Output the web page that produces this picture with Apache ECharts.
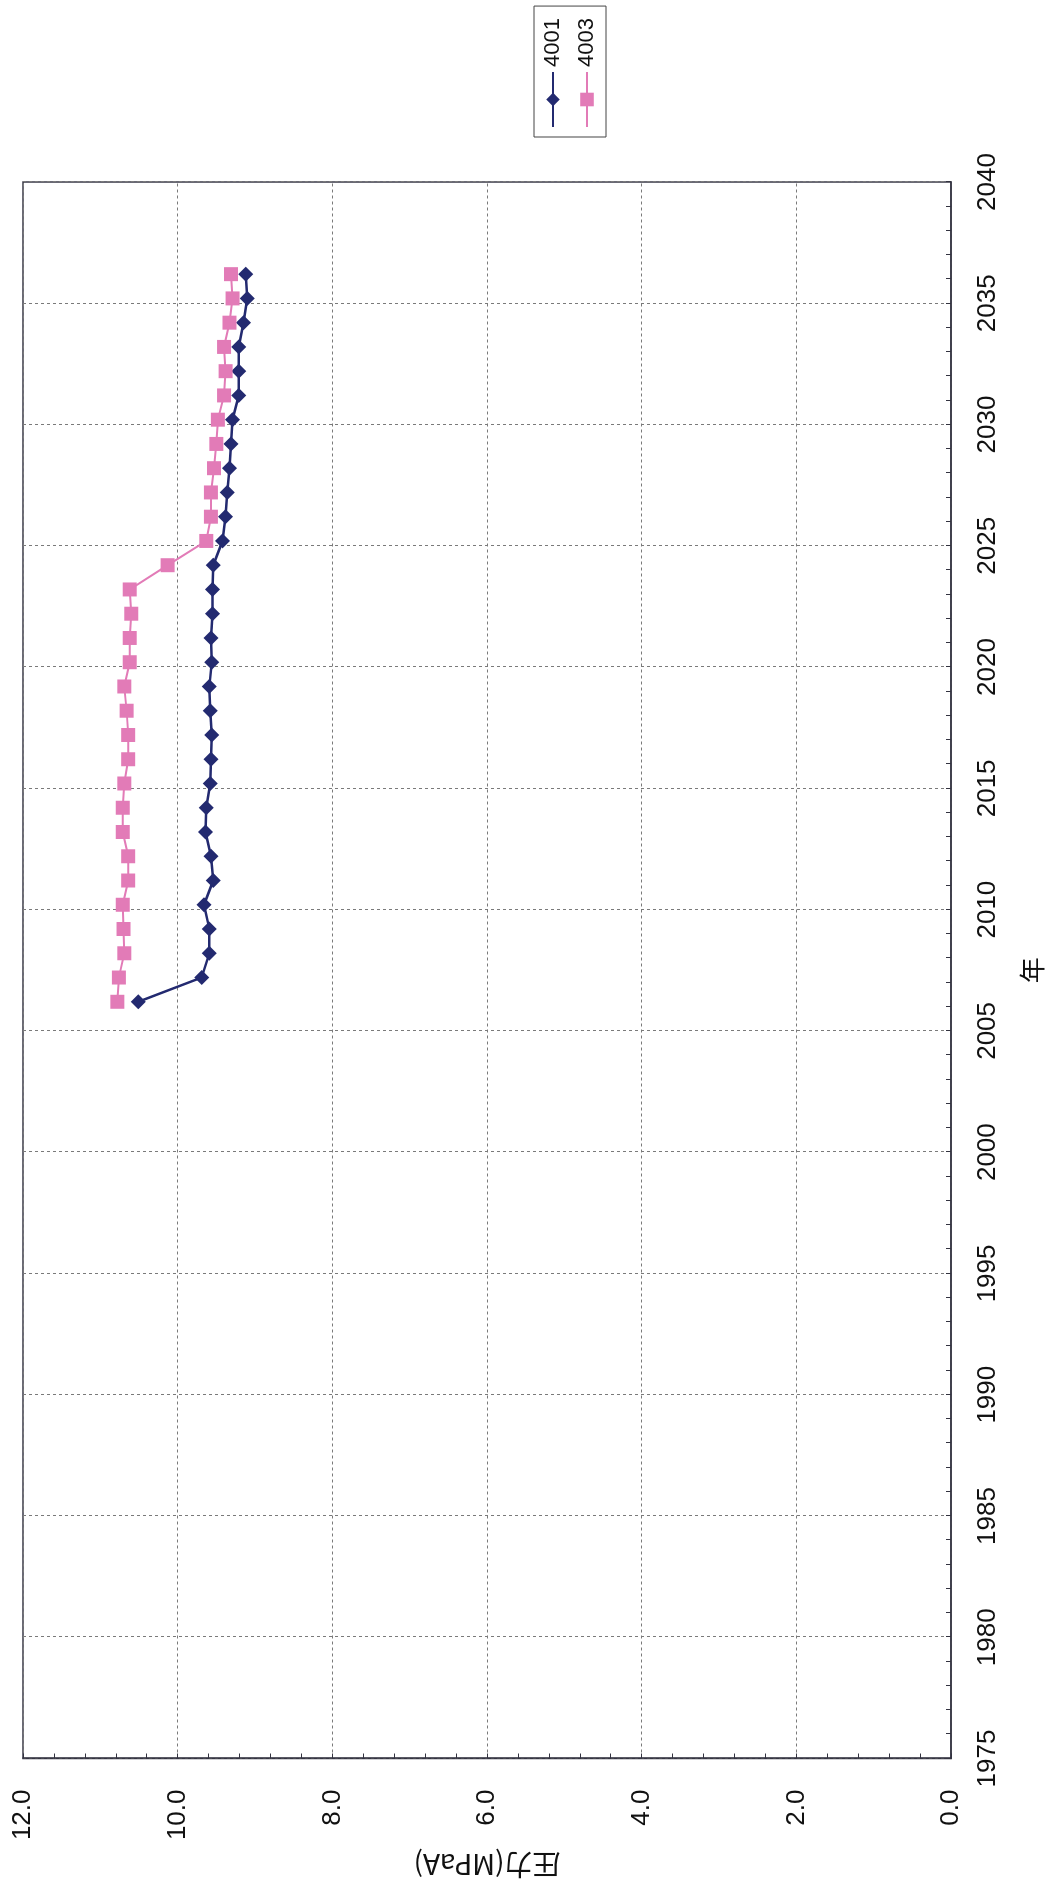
<!DOCTYPE html>
<html>
<head>
<meta charset="utf-8">
<script src="https://cdn.jsdelivr.net/npm/echarts@6.0.0/dist/echarts.min.js"></script>
<style>
  html, body { margin: 0; padding: 0; width: 1050px; height: 1887px; overflow: hidden; background: #fff; }
  /* The chart is laid out landscape and turned a quarter turn counter-clockwise onto the portrait page */
  #chart {
    position: absolute; left: 0; top: 0;
    width: 1887px; height: 1050px;
    transform-origin: 0 0;
    transform: translateY(1887px) rotate(-90deg);
  }
</style>
</head>
<body>
<div id="chart"></div>
<script>
// Observation dates (fractional year, start of fiscal year)
const years = [
  2006.2, 2007.2, 2008.2, 2009.2, 2010.2, 2011.2, 2012.2, 2013.2, 2014.2, 2015.2,
  2016.2, 2017.2, 2018.2, 2019.2, 2020.2, 2021.2, 2022.2, 2023.2, 2024.2, 2025.2,
  2026.2, 2027.2, 2028.2, 2029.2, 2030.2, 2031.2, 2032.2, 2033.2, 2034.2, 2035.2,
  2036.2
];

// Pressure (MPaA) for well 4001
const p4001 = [
  10.51, 9.69, 9.59, 9.59, 9.66, 9.54, 9.57, 9.64, 9.63, 9.58,
  9.57, 9.56, 9.58, 9.59, 9.56, 9.57, 9.55, 9.55, 9.54, 9.42,
  9.38, 9.36, 9.33, 9.31, 9.29, 9.21, 9.21, 9.21, 9.15, 9.10,
  9.12
];

// Pressure (MPaA) for well 4003
const p4003 = [
  10.78, 10.76, 10.69, 10.70, 10.71, 10.64, 10.64, 10.71, 10.71, 10.69,
  10.64, 10.64, 10.66, 10.69, 10.62, 10.62, 10.60, 10.62, 10.13, 9.63,
  9.57, 9.57, 9.53, 9.50, 9.48, 9.40, 9.38, 9.40, 9.33, 9.29,
  9.31
];

const seriesNames = ['4001', '4003'];
const xAxisTitle = '年';
const yAxisTitle = '圧力(MPaA)';

const navy = '#232a70';
const pink = '#e27bb7';
const fontLatin = '"Liberation Sans", Arial, sans-serif';
const fontCJK = '"Noto Sans CJK JP", "Noto Sans", sans-serif';

const chart = echarts.init(document.getElementById('chart'), null, { renderer: 'canvas' });

const gridLine = { show: true, lineStyle: { color: '#7a7a7a', type: [3, 3], width: 1 } };
const axisLine = { onZero: false, lineStyle: { color: '#333340', width: 1.5 } };
const tick = { inside: true, length: 5, lineStyle: { color: '#333340', width: 1 } };
const minor = { show: true, splitNumber: 5, length: 5, lineStyle: { color: '#333340', width: 1 } };

chart.setOption({
  animation: false,
  backgroundColor: '#ffffff',
  grid: {
    left: 126, right: 182, top: 23, bottom: 95,
    show: true, borderColor: '#3a3a48', borderWidth: 1.5, backgroundColor: 'transparent'
  },
  legend: {
    data: seriesNames,
    orient: 'vertical',
    left: 1750, top: 534,
    padding: [8, 12, 8, 9],
    borderColor: '#444',
    borderWidth: 1,
    itemWidth: 55,
    itemHeight: 17,
    itemGap: 12,
    textStyle: { fontSize: 22, fontFamily: fontLatin, color: '#111' }
  },
  xAxis: {
    type: 'value',
    min: 1975, max: 2040, interval: 5,
    name: xAxisTitle,
    nameLocation: 'middle',
    nameGap: 68,
    nameTextStyle: { fontSize: 26, fontFamily: fontCJK, color: '#111' },
    axisLine: axisLine,
    axisTick: tick,
    minorTick: minor,
    axisLabel: {
      margin: 24, fontSize: 26, fontFamily: fontLatin, color: '#111',
      formatter: v => String(v)
    },
    splitLine: gridLine
  },
  yAxis: {
    type: 'value',
    min: 0, max: 12, interval: 2,
    name: yAxisTitle,
    nameLocation: 'middle',
    nameGap: 88,
    nameTextStyle: { fontSize: 28, fontFamily: fontCJK, color: '#111' },
    axisLine: axisLine,
    axisTick: tick,
    minorTick: minor,
    axisLabel: {
      margin: 31, fontSize: 26, fontFamily: fontLatin, color: '#111',
      formatter: v => v.toFixed(1)
    },
    splitLine: gridLine
  },
  series: [
    {
      name: seriesNames[0],
      type: 'line',
      data: years.map((y, i) => [y, p4001[i]]),
      symbol: 'diamond',
      symbolSize: 15,
      itemStyle: { color: navy },
      lineStyle: { color: navy, width: 2.5 }
    },
    {
      name: seriesNames[1],
      type: 'line',
      data: years.map((y, i) => [y, p4003[i]]),
      symbol: 'rect',
      symbolSize: 14,
      itemStyle: { color: pink },
      lineStyle: { color: pink, width: 2 }
    }
  ]
});
</script>
</body>
</html>
